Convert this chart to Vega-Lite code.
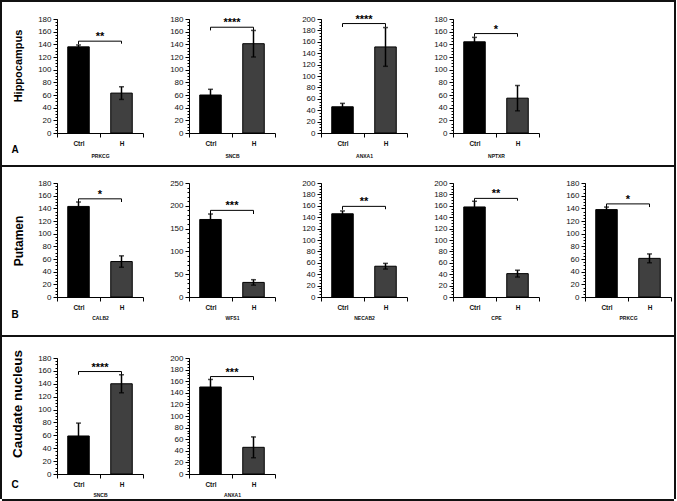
{
  "$schema": "https://vega.github.io/schema/vega-lite/v6.json",
  "background": "white",
  "padding": 0,
  "spacing": 0,
  "config": {
    "font": "Liberation Sans",
    "view": {"stroke": null},
    "axis": {"grid": false, "domainColor": "#000", "tickColor": "#000", "labelColor": "#111", "titleColor": "#111", "labelFont": "Liberation Sans", "titleFont": "Liberation Sans", "domainWidth": 1, "tickWidth": 1},
    "axisX": {"labelAngle": 0, "labelFontSize": 6.5, "labelFontWeight": "bold", "tickBand": "extent", "tickSize": 4, "labelPadding": 3, "titleFontSize": 5, "titleFontWeight": "bold"},
    "axisY": {"labelFontSize": 8, "tickSize": 4, "labelPadding": 2}
  },
  "datasets": {
    "bars": [
      {"id": "A1", "group": "Ctrl", "value": 136, "err": 3},
      {"id": "A1", "group": "H", "value": 63, "err": 10},
      {"id": "A2", "group": "Ctrl", "value": 60, "err": 9},
      {"id": "A2", "group": "H", "value": 141, "err": 21},
      {"id": "A3", "group": "Ctrl", "value": 46, "err": 6},
      {"id": "A3", "group": "H", "value": 151, "err": 34},
      {"id": "A4", "group": "Ctrl", "value": 144, "err": 7},
      {"id": "A4", "group": "H", "value": 55, "err": 20},
      {"id": "B1", "group": "Ctrl", "value": 143, "err": 7},
      {"id": "B1", "group": "H", "value": 56, "err": 9},
      {"id": "B2", "group": "Ctrl", "value": 170, "err": 12},
      {"id": "B2", "group": "H", "value": 32, "err": 6},
      {"id": "B3", "group": "Ctrl", "value": 146, "err": 5},
      {"id": "B3", "group": "H", "value": 54, "err": 5},
      {"id": "B4", "group": "Ctrl", "value": 158, "err": 10},
      {"id": "B4", "group": "H", "value": 41, "err": 6},
      {"id": "B5", "group": "Ctrl", "value": 138, "err": 4},
      {"id": "B5", "group": "H", "value": 61, "err": 7},
      {"id": "C1", "group": "Ctrl", "value": 59, "err": 20},
      {"id": "C1", "group": "H", "value": 140, "err": 14},
      {"id": "C2", "group": "Ctrl", "value": 150, "err": 13},
      {"id": "C2", "group": "H", "value": 46, "err": 18}
    ],
    "brackets": [
      {"id": "A1", "group": "Ctrl", "level": 140, "ord": 1}, {"id": "A1", "group": "Ctrl", "level": 145, "ord": 2}, {"id": "A1", "group": "H", "level": 145, "ord": 3}, {"id": "A1", "group": "H", "level": 141, "ord": 4},
      {"id": "A2", "group": "Ctrl", "level": 162, "ord": 1}, {"id": "A2", "group": "Ctrl", "level": 167, "ord": 2}, {"id": "A2", "group": "H", "level": 167, "ord": 3}, {"id": "A2", "group": "H", "level": 162, "ord": 4},
      {"id": "A3", "group": "Ctrl", "level": 186, "ord": 1}, {"id": "A3", "group": "Ctrl", "level": 192, "ord": 2}, {"id": "A3", "group": "H", "level": 192, "ord": 3}, {"id": "A3", "group": "H", "level": 186, "ord": 4},
      {"id": "A4", "group": "Ctrl", "level": 152, "ord": 1}, {"id": "A4", "group": "Ctrl", "level": 157, "ord": 2}, {"id": "A4", "group": "H", "level": 157, "ord": 3}, {"id": "A4", "group": "H", "level": 152, "ord": 4},
      {"id": "B1", "group": "Ctrl", "level": 150, "ord": 1}, {"id": "B1", "group": "Ctrl", "level": 155, "ord": 2}, {"id": "B1", "group": "H", "level": 155, "ord": 3}, {"id": "B1", "group": "H", "level": 150, "ord": 4},
      {"id": "B2", "group": "Ctrl", "level": 182, "ord": 1}, {"id": "B2", "group": "Ctrl", "level": 190, "ord": 2}, {"id": "B2", "group": "H", "level": 190, "ord": 3}, {"id": "B2", "group": "H", "level": 182, "ord": 4},
      {"id": "B3", "group": "Ctrl", "level": 153, "ord": 1}, {"id": "B3", "group": "Ctrl", "level": 159, "ord": 2}, {"id": "B3", "group": "H", "level": 159, "ord": 3}, {"id": "B3", "group": "H", "level": 154, "ord": 4},
      {"id": "B4", "group": "Ctrl", "level": 168, "ord": 1}, {"id": "B4", "group": "Ctrl", "level": 173, "ord": 2}, {"id": "B4", "group": "H", "level": 173, "ord": 3}, {"id": "B4", "group": "H", "level": 169, "ord": 4},
      {"id": "B5", "group": "Ctrl", "level": 142, "ord": 1}, {"id": "B5", "group": "Ctrl", "level": 147, "ord": 2}, {"id": "B5", "group": "H", "level": 147, "ord": 3}, {"id": "B5", "group": "H", "level": 142, "ord": 4},
      {"id": "C1", "group": "Ctrl", "level": 154, "ord": 1}, {"id": "C1", "group": "Ctrl", "level": 159, "ord": 2}, {"id": "C1", "group": "H", "level": 159, "ord": 3}, {"id": "C1", "group": "H", "level": 154, "ord": 4},
      {"id": "C2", "group": "Ctrl", "level": 162, "ord": 1}, {"id": "C2", "group": "Ctrl", "level": 168, "ord": 2}, {"id": "C2", "group": "H", "level": 168, "ord": 3}, {"id": "C2", "group": "H", "level": 162, "ord": 4}
    ],
    "stars": [
      {"id": "A1", "stars": "**", "level": 145},
      {"id": "A2", "stars": "****", "level": 167},
      {"id": "A3", "stars": "****", "level": 192},
      {"id": "A4", "stars": "*", "level": 157},
      {"id": "B1", "stars": "*", "level": 155},
      {"id": "B2", "stars": "***", "level": 190},
      {"id": "B3", "stars": "**", "level": 159},
      {"id": "B4", "stars": "**", "level": 173},
      {"id": "B5", "stars": "*", "level": 147},
      {"id": "C1", "stars": "****", "level": 159},
      {"id": "C2", "stars": "***", "level": 168}
    ]
  },
  "hconcat": [
    {"width": 2, "height": 499, "view": {"fill": "#111", "stroke": null}, "data": {"values": []}, "mark": "point"},
    {
      "spacing": 0,
      "vconcat": [
        {"width": 672, "height": 2, "view": {"fill": "#111", "stroke": null}, "data": {"values": []}, "mark": "point"},
        {"width": 1, "height": 11, "data": {"values": []}, "mark": "point"},
        {
          "bounds": "flush",
          "spacing": 46,
          "hconcat": [
            {
              "width": 9, "height": 146,
              "data": {"values": [{"region": "Hippocampus", "panel": "A"}]},
              "layer": [
                {"mark": {"type": "text", "angle": 270, "fontSize": 11, "fontWeight": "bold", "align": "center", "baseline": "middle", "dx": 26, "dy": 12.5}, "encoding": {"text": {"field": "region"}}},
                {"mark": {"type": "text", "fontSize": 10, "fontWeight": "bold", "align": "center", "baseline": "middle", "dx": 8.5, "dy": 58}, "encoding": {"text": {"field": "panel"}}}
              ]
            },
            {
              "width": 86, "height": 114,
              "resolve": {"axis": {"y": "independent"}},
              "layer": [
                {"data": {"name": "bars"}, "transform": [{"filter": {"field": "id", "equal": "A1"}}], "mark": {"type": "bar", "width": {"band": 0.5}, "stroke": "#000", "strokeWidth": 1},
                 "encoding": {"x": {"field": "group", "type": "nominal", "scale": {"paddingInner": 0, "paddingOuter": 0}, "axis": {"title": "PRKCG", "titlePadding": 7}}, "y": {"field": "value", "type": "quantitative", "scale": {"domain": [0, 180], "nice": false}, "axis": {"title": null, "tickCount": 9}}, "fill": {"field": "group", "type": "nominal", "scale": {"range": ["#000000", "#404040"]}, "legend": null}}},
                {"data": {"name": "bars"}, "transform": [{"filter": {"field": "id", "equal": "A1"}}], "mark": {"type": "errorbar", "color": "#000", "thickness": 1.5, "ticks": {"size": 5}},
                 "encoding": {"x": {"field": "group", "type": "nominal"}, "y": {"field": "value", "type": "quantitative", "axis": null}, "yError": {"field": "err"}}},
                {"data": {"name": "brackets"}, "transform": [{"filter": {"field": "id", "equal": "A1"}}], "mark": {"type": "line", "color": "#000", "strokeWidth": 1},
                 "encoding": {"x": {"field": "group", "type": "nominal"}, "y": {"field": "level", "type": "quantitative", "axis": {"orient": "left", "title": null, "labels": false, "domain": false, "tickSize": 2, "tickCount": 36}}, "order": {"field": "ord", "type": "quantitative"}}},
                {"data": {"name": "stars"}, "transform": [{"filter": {"field": "id", "equal": "A1"}}], "mark": {"type": "text", "fontSize": 11, "fontWeight": "bold", "baseline": "alphabetic", "dy": -1},
                 "encoding": {"x": {"datum": "H", "bandPosition": 0}, "y": {"field": "level", "type": "quantitative", "axis": null}, "text": {"field": "stars"}}}
              ]
            },
            {
              "width": 86, "height": 114,
              "resolve": {"axis": {"y": "independent"}},
              "layer": [
                {"data": {"name": "bars"}, "transform": [{"filter": {"field": "id", "equal": "A2"}}], "mark": {"type": "bar", "width": {"band": 0.5}, "stroke": "#000", "strokeWidth": 1},
                 "encoding": {"x": {"field": "group", "type": "nominal", "scale": {"paddingInner": 0, "paddingOuter": 0}, "axis": {"title": "SNCB", "titlePadding": 7}}, "y": {"field": "value", "type": "quantitative", "scale": {"domain": [0, 180], "nice": false}, "axis": {"title": null, "tickCount": 9}}, "fill": {"field": "group", "type": "nominal", "scale": {"range": ["#000000", "#404040"]}, "legend": null}}},
                {"data": {"name": "bars"}, "transform": [{"filter": {"field": "id", "equal": "A2"}}], "mark": {"type": "errorbar", "color": "#000", "thickness": 1.5, "ticks": {"size": 5}},
                 "encoding": {"x": {"field": "group", "type": "nominal"}, "y": {"field": "value", "type": "quantitative", "axis": null}, "yError": {"field": "err"}}},
                {"data": {"name": "brackets"}, "transform": [{"filter": {"field": "id", "equal": "A2"}}], "mark": {"type": "line", "color": "#000", "strokeWidth": 1},
                 "encoding": {"x": {"field": "group", "type": "nominal"}, "y": {"field": "level", "type": "quantitative", "axis": {"orient": "left", "title": null, "labels": false, "domain": false, "tickSize": 2, "tickCount": 36}}, "order": {"field": "ord", "type": "quantitative"}}},
                {"data": {"name": "stars"}, "transform": [{"filter": {"field": "id", "equal": "A2"}}], "mark": {"type": "text", "fontSize": 11, "fontWeight": "bold", "baseline": "alphabetic", "dy": -1},
                 "encoding": {"x": {"datum": "H", "bandPosition": 0}, "y": {"field": "level", "type": "quantitative", "axis": null}, "text": {"field": "stars"}}}
              ]
            },
            {
              "width": 86, "height": 114,
              "resolve": {"axis": {"y": "independent"}},
              "layer": [
                {"data": {"name": "bars"}, "transform": [{"filter": {"field": "id", "equal": "A3"}}], "mark": {"type": "bar", "width": {"band": 0.5}, "stroke": "#000", "strokeWidth": 1},
                 "encoding": {"x": {"field": "group", "type": "nominal", "scale": {"paddingInner": 0, "paddingOuter": 0}, "axis": {"title": "ANXA1", "titlePadding": 7}}, "y": {"field": "value", "type": "quantitative", "scale": {"domain": [0, 200], "nice": false}, "axis": {"title": null, "tickCount": 10}}, "fill": {"field": "group", "type": "nominal", "scale": {"range": ["#000000", "#404040"]}, "legend": null}}},
                {"data": {"name": "bars"}, "transform": [{"filter": {"field": "id", "equal": "A3"}}], "mark": {"type": "errorbar", "color": "#000", "thickness": 1.5, "ticks": {"size": 5}},
                 "encoding": {"x": {"field": "group", "type": "nominal"}, "y": {"field": "value", "type": "quantitative", "axis": null}, "yError": {"field": "err"}}},
                {"data": {"name": "brackets"}, "transform": [{"filter": {"field": "id", "equal": "A3"}}], "mark": {"type": "line", "color": "#000", "strokeWidth": 1},
                 "encoding": {"x": {"field": "group", "type": "nominal"}, "y": {"field": "level", "type": "quantitative", "axis": {"orient": "left", "title": null, "labels": false, "domain": false, "tickSize": 2, "tickCount": 40}}, "order": {"field": "ord", "type": "quantitative"}}},
                {"data": {"name": "stars"}, "transform": [{"filter": {"field": "id", "equal": "A3"}}], "mark": {"type": "text", "fontSize": 11, "fontWeight": "bold", "baseline": "alphabetic", "dy": -1},
                 "encoding": {"x": {"datum": "H", "bandPosition": 0}, "y": {"field": "level", "type": "quantitative", "axis": null}, "text": {"field": "stars"}}}
              ]
            },
            {
              "width": 86, "height": 114,
              "resolve": {"axis": {"y": "independent"}},
              "layer": [
                {"data": {"name": "bars"}, "transform": [{"filter": {"field": "id", "equal": "A4"}}], "mark": {"type": "bar", "width": {"band": 0.5}, "stroke": "#000", "strokeWidth": 1},
                 "encoding": {"x": {"field": "group", "type": "nominal", "scale": {"paddingInner": 0, "paddingOuter": 0}, "axis": {"title": "NPTXR", "titlePadding": 7}}, "y": {"field": "value", "type": "quantitative", "scale": {"domain": [0, 180], "nice": false}, "axis": {"title": null, "tickCount": 9}}, "fill": {"field": "group", "type": "nominal", "scale": {"range": ["#000000", "#404040"]}, "legend": null}}},
                {"data": {"name": "bars"}, "transform": [{"filter": {"field": "id", "equal": "A4"}}], "mark": {"type": "errorbar", "color": "#000", "thickness": 1.5, "ticks": {"size": 5}},
                 "encoding": {"x": {"field": "group", "type": "nominal"}, "y": {"field": "value", "type": "quantitative", "axis": null}, "yError": {"field": "err"}}},
                {"data": {"name": "brackets"}, "transform": [{"filter": {"field": "id", "equal": "A4"}}], "mark": {"type": "line", "color": "#000", "strokeWidth": 1},
                 "encoding": {"x": {"field": "group", "type": "nominal"}, "y": {"field": "level", "type": "quantitative", "axis": {"orient": "left", "title": null, "labels": false, "domain": false, "tickSize": 2, "tickCount": 36}}, "order": {"field": "ord", "type": "quantitative"}}},
                {"data": {"name": "stars"}, "transform": [{"filter": {"field": "id", "equal": "A4"}}], "mark": {"type": "text", "fontSize": 11, "fontWeight": "bold", "baseline": "alphabetic", "dy": -1},
                 "encoding": {"x": {"datum": "H", "bandPosition": 0}, "y": {"field": "level", "type": "quantitative", "axis": null}, "text": {"field": "stars"}}}
              ]
            }
          ]
        },
        {"width": 672, "height": 2, "view": {"fill": "#111", "stroke": null}, "data": {"values": []}, "mark": "point"},
        {"width": 1, "height": 12, "data": {"values": []}, "mark": "point"},
        {
          "bounds": "flush",
          "spacing": 46,
          "hconcat": [
            {
              "width": 9, "height": 152,
              "data": {"values": [{"region": "Putamen", "panel": "B"}]},
              "layer": [
                {"mark": {"type": "text", "angle": 270, "fontSize": 12, "fontWeight": "bold", "align": "center", "baseline": "middle", "dx": 18, "dy": 12.5}, "encoding": {"text": {"field": "region"}}},
                {"mark": {"type": "text", "fontSize": 10, "fontWeight": "bold", "align": "center", "baseline": "middle", "dx": 8.5, "dy": 56}, "encoding": {"text": {"field": "panel"}}}
              ]
            },
            {
              "width": 86, "height": 114,
              "resolve": {"axis": {"y": "independent"}},
              "layer": [
                {"data": {"name": "bars"}, "transform": [{"filter": {"field": "id", "equal": "B1"}}], "mark": {"type": "bar", "width": {"band": 0.5}, "stroke": "#000", "strokeWidth": 1},
                 "encoding": {"x": {"field": "group", "type": "nominal", "scale": {"paddingInner": 0, "paddingOuter": 0}, "axis": {"title": "CALB2", "titlePadding": 5}}, "y": {"field": "value", "type": "quantitative", "scale": {"domain": [0, 180], "nice": false}, "axis": {"title": null, "tickCount": 9}}, "fill": {"field": "group", "type": "nominal", "scale": {"range": ["#000000", "#404040"]}, "legend": null}}},
                {"data": {"name": "bars"}, "transform": [{"filter": {"field": "id", "equal": "B1"}}], "mark": {"type": "errorbar", "color": "#000", "thickness": 1.5, "ticks": {"size": 5}},
                 "encoding": {"x": {"field": "group", "type": "nominal"}, "y": {"field": "value", "type": "quantitative", "axis": null}, "yError": {"field": "err"}}},
                {"data": {"name": "brackets"}, "transform": [{"filter": {"field": "id", "equal": "B1"}}], "mark": {"type": "line", "color": "#000", "strokeWidth": 1},
                 "encoding": {"x": {"field": "group", "type": "nominal"}, "y": {"field": "level", "type": "quantitative", "axis": {"orient": "left", "title": null, "labels": false, "domain": false, "tickSize": 2, "tickCount": 36}}, "order": {"field": "ord", "type": "quantitative"}}},
                {"data": {"name": "stars"}, "transform": [{"filter": {"field": "id", "equal": "B1"}}], "mark": {"type": "text", "fontSize": 11, "fontWeight": "bold", "baseline": "alphabetic", "dy": -1},
                 "encoding": {"x": {"datum": "H", "bandPosition": 0}, "y": {"field": "level", "type": "quantitative", "axis": null}, "text": {"field": "stars"}}}
              ]
            },
            {
              "width": 86, "height": 114,
              "resolve": {"axis": {"y": "independent"}},
              "layer": [
                {"data": {"name": "bars"}, "transform": [{"filter": {"field": "id", "equal": "B2"}}], "mark": {"type": "bar", "width": {"band": 0.5}, "stroke": "#000", "strokeWidth": 1},
                 "encoding": {"x": {"field": "group", "type": "nominal", "scale": {"paddingInner": 0, "paddingOuter": 0}, "axis": {"title": "WFS1", "titlePadding": 5}}, "y": {"field": "value", "type": "quantitative", "scale": {"domain": [0, 250], "nice": false}, "axis": {"title": null, "tickCount": 5}}, "fill": {"field": "group", "type": "nominal", "scale": {"range": ["#000000", "#404040"]}, "legend": null}}},
                {"data": {"name": "bars"}, "transform": [{"filter": {"field": "id", "equal": "B2"}}], "mark": {"type": "errorbar", "color": "#000", "thickness": 1.5, "ticks": {"size": 5}},
                 "encoding": {"x": {"field": "group", "type": "nominal"}, "y": {"field": "value", "type": "quantitative", "axis": null}, "yError": {"field": "err"}}},
                {"data": {"name": "brackets"}, "transform": [{"filter": {"field": "id", "equal": "B2"}}], "mark": {"type": "line", "color": "#000", "strokeWidth": 1},
                 "encoding": {"x": {"field": "group", "type": "nominal"}, "y": {"field": "level", "type": "quantitative", "axis": {"orient": "left", "title": null, "labels": false, "domain": false, "tickSize": 2, "tickCount": 25}}, "order": {"field": "ord", "type": "quantitative"}}},
                {"data": {"name": "stars"}, "transform": [{"filter": {"field": "id", "equal": "B2"}}], "mark": {"type": "text", "fontSize": 11, "fontWeight": "bold", "baseline": "alphabetic", "dy": -1},
                 "encoding": {"x": {"datum": "H", "bandPosition": 0}, "y": {"field": "level", "type": "quantitative", "axis": null}, "text": {"field": "stars"}}}
              ]
            },
            {
              "width": 86, "height": 114,
              "resolve": {"axis": {"y": "independent"}},
              "layer": [
                {"data": {"name": "bars"}, "transform": [{"filter": {"field": "id", "equal": "B3"}}], "mark": {"type": "bar", "width": {"band": 0.5}, "stroke": "#000", "strokeWidth": 1},
                 "encoding": {"x": {"field": "group", "type": "nominal", "scale": {"paddingInner": 0, "paddingOuter": 0}, "axis": {"title": "NECAB2", "titlePadding": 5}}, "y": {"field": "value", "type": "quantitative", "scale": {"domain": [0, 200], "nice": false}, "axis": {"title": null, "tickCount": 10}}, "fill": {"field": "group", "type": "nominal", "scale": {"range": ["#000000", "#404040"]}, "legend": null}}},
                {"data": {"name": "bars"}, "transform": [{"filter": {"field": "id", "equal": "B3"}}], "mark": {"type": "errorbar", "color": "#000", "thickness": 1.5, "ticks": {"size": 5}},
                 "encoding": {"x": {"field": "group", "type": "nominal"}, "y": {"field": "value", "type": "quantitative", "axis": null}, "yError": {"field": "err"}}},
                {"data": {"name": "brackets"}, "transform": [{"filter": {"field": "id", "equal": "B3"}}], "mark": {"type": "line", "color": "#000", "strokeWidth": 1},
                 "encoding": {"x": {"field": "group", "type": "nominal"}, "y": {"field": "level", "type": "quantitative", "axis": {"orient": "left", "title": null, "labels": false, "domain": false, "tickSize": 2, "tickCount": 40}}, "order": {"field": "ord", "type": "quantitative"}}},
                {"data": {"name": "stars"}, "transform": [{"filter": {"field": "id", "equal": "B3"}}], "mark": {"type": "text", "fontSize": 11, "fontWeight": "bold", "baseline": "alphabetic", "dy": -1},
                 "encoding": {"x": {"datum": "H", "bandPosition": 0}, "y": {"field": "level", "type": "quantitative", "axis": null}, "text": {"field": "stars"}}}
              ]
            },
            {
              "width": 86, "height": 114,
              "resolve": {"axis": {"y": "independent"}},
              "layer": [
                {"data": {"name": "bars"}, "transform": [{"filter": {"field": "id", "equal": "B4"}}], "mark": {"type": "bar", "width": {"band": 0.5}, "stroke": "#000", "strokeWidth": 1},
                 "encoding": {"x": {"field": "group", "type": "nominal", "scale": {"paddingInner": 0, "paddingOuter": 0}, "axis": {"title": "CPE", "titlePadding": 5}}, "y": {"field": "value", "type": "quantitative", "scale": {"domain": [0, 200], "nice": false}, "axis": {"title": null, "tickCount": 10}}, "fill": {"field": "group", "type": "nominal", "scale": {"range": ["#000000", "#404040"]}, "legend": null}}},
                {"data": {"name": "bars"}, "transform": [{"filter": {"field": "id", "equal": "B4"}}], "mark": {"type": "errorbar", "color": "#000", "thickness": 1.5, "ticks": {"size": 5}},
                 "encoding": {"x": {"field": "group", "type": "nominal"}, "y": {"field": "value", "type": "quantitative", "axis": null}, "yError": {"field": "err"}}},
                {"data": {"name": "brackets"}, "transform": [{"filter": {"field": "id", "equal": "B4"}}], "mark": {"type": "line", "color": "#000", "strokeWidth": 1},
                 "encoding": {"x": {"field": "group", "type": "nominal"}, "y": {"field": "level", "type": "quantitative", "axis": {"orient": "left", "title": null, "labels": false, "domain": false, "tickSize": 2, "tickCount": 40}}, "order": {"field": "ord", "type": "quantitative"}}},
                {"data": {"name": "stars"}, "transform": [{"filter": {"field": "id", "equal": "B4"}}], "mark": {"type": "text", "fontSize": 11, "fontWeight": "bold", "baseline": "alphabetic", "dy": -1},
                 "encoding": {"x": {"datum": "H", "bandPosition": 0}, "y": {"field": "level", "type": "quantitative", "axis": null}, "text": {"field": "stars"}}}
              ]
            },
            {
              "width": 86, "height": 114,
              "resolve": {"axis": {"y": "independent"}},
              "layer": [
                {"data": {"name": "bars"}, "transform": [{"filter": {"field": "id", "equal": "B5"}}], "mark": {"type": "bar", "width": {"band": 0.5}, "stroke": "#000", "strokeWidth": 1},
                 "encoding": {"x": {"field": "group", "type": "nominal", "scale": {"paddingInner": 0, "paddingOuter": 0}, "axis": {"title": "PRKCG", "titlePadding": 5}}, "y": {"field": "value", "type": "quantitative", "scale": {"domain": [0, 180], "nice": false}, "axis": {"title": null, "tickCount": 9}}, "fill": {"field": "group", "type": "nominal", "scale": {"range": ["#000000", "#404040"]}, "legend": null}}},
                {"data": {"name": "bars"}, "transform": [{"filter": {"field": "id", "equal": "B5"}}], "mark": {"type": "errorbar", "color": "#000", "thickness": 1.5, "ticks": {"size": 5}},
                 "encoding": {"x": {"field": "group", "type": "nominal"}, "y": {"field": "value", "type": "quantitative", "axis": null}, "yError": {"field": "err"}}},
                {"data": {"name": "brackets"}, "transform": [{"filter": {"field": "id", "equal": "B5"}}], "mark": {"type": "line", "color": "#000", "strokeWidth": 1},
                 "encoding": {"x": {"field": "group", "type": "nominal"}, "y": {"field": "level", "type": "quantitative", "axis": {"orient": "left", "title": null, "labels": false, "domain": false, "tickSize": 2, "tickCount": 36}}, "order": {"field": "ord", "type": "quantitative"}}},
                {"data": {"name": "stars"}, "transform": [{"filter": {"field": "id", "equal": "B5"}}], "mark": {"type": "text", "fontSize": 11, "fontWeight": "bold", "baseline": "alphabetic", "dy": -1},
                 "encoding": {"x": {"datum": "H", "bandPosition": 0}, "y": {"field": "level", "type": "quantitative", "axis": null}, "text": {"field": "stars"}}}
              ]
            }
          ]
        },
        {"width": 672, "height": 2, "view": {"fill": "#111", "stroke": null}, "data": {"values": []}, "mark": "point"},
        {"width": 1, "height": 12, "data": {"values": []}, "mark": "point"},
        {
          "bounds": "flush",
          "spacing": 46,
          "hconcat": [
            {
              "width": 9, "height": 141,
              "data": {"values": [{"region": "Caudate nucleus", "panel": "C"}]},
              "layer": [
                {"mark": {"type": "text", "angle": 270, "fontSize": 13.5, "fontWeight": "bold", "align": "center", "baseline": "middle", "dx": 24.5, "dy": 11.5}, "encoding": {"text": {"field": "region"}}},
                {"mark": {"type": "text", "fontSize": 10, "fontWeight": "bold", "align": "center", "baseline": "middle", "dx": 8.5, "dy": 56.5}, "encoding": {"text": {"field": "panel"}}}
              ]
            },
            {
              "width": 86, "height": 116,
              "resolve": {"axis": {"y": "independent"}},
              "layer": [
                {"data": {"name": "bars"}, "transform": [{"filter": {"field": "id", "equal": "C1"}}], "mark": {"type": "bar", "width": {"band": 0.5}, "stroke": "#000", "strokeWidth": 1},
                 "encoding": {"x": {"field": "group", "type": "nominal", "scale": {"paddingInner": 0, "paddingOuter": 0}, "axis": {"title": "SNCB", "titlePadding": 5}}, "y": {"field": "value", "type": "quantitative", "scale": {"domain": [0, 180], "nice": false}, "axis": {"title": null, "tickCount": 9}}, "fill": {"field": "group", "type": "nominal", "scale": {"range": ["#000000", "#404040"]}, "legend": null}}},
                {"data": {"name": "bars"}, "transform": [{"filter": {"field": "id", "equal": "C1"}}], "mark": {"type": "errorbar", "color": "#000", "thickness": 1.5, "ticks": {"size": 5}},
                 "encoding": {"x": {"field": "group", "type": "nominal"}, "y": {"field": "value", "type": "quantitative", "axis": null}, "yError": {"field": "err"}}},
                {"data": {"name": "brackets"}, "transform": [{"filter": {"field": "id", "equal": "C1"}}], "mark": {"type": "line", "color": "#000", "strokeWidth": 1},
                 "encoding": {"x": {"field": "group", "type": "nominal"}, "y": {"field": "level", "type": "quantitative", "axis": {"orient": "left", "title": null, "labels": false, "domain": false, "tickSize": 2, "tickCount": 36}}, "order": {"field": "ord", "type": "quantitative"}}},
                {"data": {"name": "stars"}, "transform": [{"filter": {"field": "id", "equal": "C1"}}], "mark": {"type": "text", "fontSize": 11, "fontWeight": "bold", "baseline": "alphabetic", "dy": -1},
                 "encoding": {"x": {"datum": "H", "bandPosition": 0}, "y": {"field": "level", "type": "quantitative", "axis": null}, "text": {"field": "stars"}}}
              ]
            },
            {
              "width": 86, "height": 116,
              "resolve": {"axis": {"y": "independent"}},
              "layer": [
                {"data": {"name": "bars"}, "transform": [{"filter": {"field": "id", "equal": "C2"}}], "mark": {"type": "bar", "width": {"band": 0.5}, "stroke": "#000", "strokeWidth": 1},
                 "encoding": {"x": {"field": "group", "type": "nominal", "scale": {"paddingInner": 0, "paddingOuter": 0}, "axis": {"title": "ANXA1", "titlePadding": 5}}, "y": {"field": "value", "type": "quantitative", "scale": {"domain": [0, 200], "nice": false}, "axis": {"title": null, "tickCount": 10}}, "fill": {"field": "group", "type": "nominal", "scale": {"range": ["#000000", "#404040"]}, "legend": null}}},
                {"data": {"name": "bars"}, "transform": [{"filter": {"field": "id", "equal": "C2"}}], "mark": {"type": "errorbar", "color": "#000", "thickness": 1.5, "ticks": {"size": 5}},
                 "encoding": {"x": {"field": "group", "type": "nominal"}, "y": {"field": "value", "type": "quantitative", "axis": null}, "yError": {"field": "err"}}},
                {"data": {"name": "brackets"}, "transform": [{"filter": {"field": "id", "equal": "C2"}}], "mark": {"type": "line", "color": "#000", "strokeWidth": 1},
                 "encoding": {"x": {"field": "group", "type": "nominal"}, "y": {"field": "level", "type": "quantitative", "axis": {"orient": "left", "title": null, "labels": false, "domain": false, "tickSize": 2, "tickCount": 40}}, "order": {"field": "ord", "type": "quantitative"}}},
                {"data": {"name": "stars"}, "transform": [{"filter": {"field": "id", "equal": "C2"}}], "mark": {"type": "text", "fontSize": 11, "fontWeight": "bold", "baseline": "alphabetic", "dy": -1},
                 "encoding": {"x": {"datum": "H", "bandPosition": 0}, "y": {"field": "level", "type": "quantitative", "axis": null}, "text": {"field": "stars"}}}
              ]
            }
          ]
        },
        {"width": 672, "height": 2, "view": {"fill": "#111", "stroke": null}, "data": {"values": []}, "mark": "point"}
      ]
    },
    {"width": 2, "height": 499, "view": {"fill": "#111", "stroke": null}, "data": {"values": []}, "mark": "point"}
  ]
}
